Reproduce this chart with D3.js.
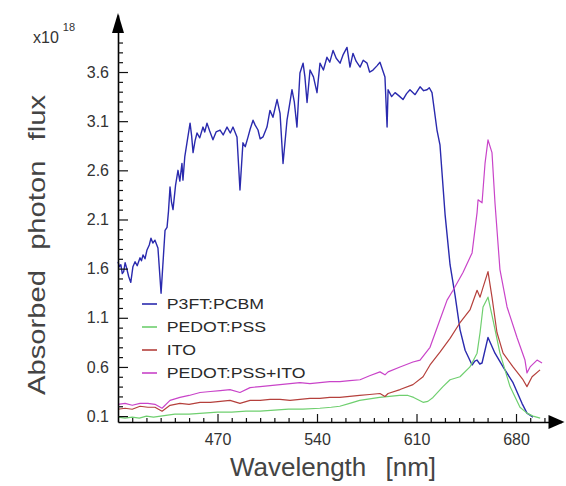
<!DOCTYPE html>
<html>
<head>
<meta charset="utf-8">
<script src="https://cdn.jsdelivr.net/npm/d3@7"></script>
<style>
  body { margin: 0; background: #fff; }
  svg { display: block; }
  text { font-family: "Liberation Sans", Arial, sans-serif; }
</style>
</head>
<body>
<svg id="chart" width="566" height="486"></svg>
<script>

// Wavelengths (nm) and absorbed photon flux (x10^18)
const p3ftWl = [400, 401, 402, 403, 404, 405, 406, 407.5, 409, 410.5, 412, 413.5, 415.5, 416.5, 417.6, 419,
    420.4, 422, 423.2, 424.5, 426, 428.1, 430.3, 433.1, 434.5, 435.5, 436.6, 437.6, 438.7, 440.5, 442.2,
    443.5, 445, 445.7, 447, 448.5, 450.7, 451.8, 452.8, 454.2, 455.6, 457.5, 459.8, 461, 462.6, 464.5,
    466.8, 469, 471.8, 474, 476.7, 479, 480.9, 483.7, 485.8, 487.9, 489.5, 491.5, 493, 495, 496.5, 498.5,
    500, 502, 504.8, 506.9, 509, 511.9, 514, 516.1, 518.9, 520.5, 522.4, 524, 525.9, 528, 530.2, 531.5, 533,
    535.1, 537.5, 540, 542.1, 544.5, 547, 549, 551.3, 553.5, 556.2, 558.5, 561.1, 563.2, 565.3, 567.5,
    570.3, 572.5, 575.2, 577, 579.4, 582, 584.3, 587.8, 589.3, 590, 592.5, 594.9, 597.5, 600.5, 603, 605.4,
    609, 612.5, 615, 617.4, 619, 620.9, 624.4, 626.5, 630.1, 633.6, 637.1, 640.6, 644.2, 649.1, 651, 652.6,
    654.5, 656.1, 660.3, 665.2, 670.9, 677.9, 684.2, 687.7, 692];
const p3ftVal = [1.67, 1.62, 1.64, 1.55, 1.57, 1.66, 1.61, 1.52, 1.46, 1.62, 1.67, 1.63, 1.71, 1.68, 1.74, 1.70,
    1.79, 1.84, 1.91, 1.86, 1.89, 1.81, 1.35, 1.99, 2.02, 2.18, 2.43, 2.28, 2.20, 2.45, 2.60,
    2.49, 2.67, 2.50, 2.74, 2.88, 3.08, 2.95, 2.78, 2.90, 2.98, 2.93, 3.04, 2.99, 3.08, 3.00,
    2.91, 2.99, 3.01, 2.96, 3.04, 2.98, 3.04, 2.94, 2.40, 2.88, 2.84, 2.94, 3.02, 3.11, 3.06, 3.01,
    2.92, 2.94, 3.04, 3.21, 3.14, 3.32, 3.18, 2.67, 3.11, 3.25, 3.42, 3.30, 3.04, 3.59, 3.69, 3.55, 3.29,
    3.62, 3.55, 3.39, 3.69, 3.62, 3.75, 3.70, 3.82, 3.74, 3.69, 3.78, 3.85, 3.65, 3.79, 3.71,
    3.65, 3.72, 3.69, 3.60, 3.62, 3.66, 3.70, 3.55, 3.04, 3.42, 3.35, 3.39, 3.36, 3.32, 3.38, 3.42,
    3.37, 3.45, 3.41, 3.42, 3.44, 3.39, 3.01, 2.86, 2.15, 1.64, 1.33, 0.98, 0.77, 0.62, 0.66, 0.67,
    0.63, 0.64, 0.90, 0.74, 0.60, 0.44, 0.23, 0.13, 0.09];

const pedotWl = [400, 405, 410, 415, 420, 425, 430, 435, 440, 450, 460, 470, 480, 490, 500, 510, 520, 530,
    542, 550, 556, 563, 570, 584, 598, 604, 608, 614.6, 618, 621.6, 628.6, 633.6, 640.6, 647.6, 652.6,
    654.7, 656.8, 660.3, 663.8, 668.7, 675.8, 682.8, 687.7, 692, 697];
const pedotVal = [0.09, 0.08, 0.09, 0.08, 0.10, 0.09, 0.10, 0.11, 0.12, 0.12, 0.13, 0.14, 0.14, 0.15, 0.15,
    0.16, 0.17, 0.17, 0.18, 0.19, 0.20, 0.23, 0.26, 0.29, 0.31, 0.31, 0.29, 0.24, 0.25, 0.29, 0.40, 0.47,
    0.50, 0.60, 0.74, 0.95, 1.21, 1.31, 1.08, 0.74, 0.40, 0.19, 0.13, 0.10, 0.08];

const itoWl = [400, 405, 410, 415.5, 421, 426, 431, 436.6, 443.6, 450, 457.7, 465, 472, 478.8, 485.8, 492.9,
    500, 507, 514, 521, 528, 535, 542, 549, 556, 563, 570, 577, 584.3, 587.8, 590, 598.4, 607.5, 614.6,
    619.5, 626.5, 633.6, 640.6, 647.6, 652.6, 654.7, 656.8, 660.3, 663.1, 666.6, 670.9, 677.9, 684.9,
    687.7, 691.3, 696.9];
const itoVal = [0.17, 0.18, 0.17, 0.20, 0.19, 0.19, 0.15, 0.21, 0.23, 0.22, 0.24, 0.24, 0.25, 0.26, 0.23, 0.26,
    0.26, 0.27, 0.27, 0.26, 0.27, 0.28, 0.28, 0.29, 0.29, 0.30, 0.31, 0.32, 0.33, 0.30, 0.33, 0.37, 0.42,
    0.50, 0.62, 0.75, 0.89, 1.05, 1.18, 1.38, 1.31, 1.41, 1.57, 1.31, 0.95, 0.74, 0.60, 0.47,
    0.40, 0.50, 0.57];

const bothWl = [400, 405, 410, 415.5, 421, 426, 431, 436.6, 443.6, 450, 457.7, 465, 472, 478.8, 485.8, 492.9,
    500, 507, 514, 521, 528, 535, 542, 549, 556, 563, 570.3, 577, 584.3, 587.8, 590, 598.4, 607.5, 612.5,
    619.5, 626.5, 631.5, 635.7, 642.7, 649.1, 652.6, 653.3, 656.1, 658.2, 660.3, 663.1, 665.2, 668.7,
    673.7, 680.7, 686.3, 687.7, 689.9, 694.8, 698.3];
const bothVal = [0.22, 0.23, 0.21, 0.23, 0.23, 0.22, 0.18, 0.26, 0.29, 0.31, 0.34, 0.35, 0.36, 0.37, 0.34, 0.39,
    0.40, 0.41, 0.42, 0.43, 0.44, 0.43, 0.44, 0.45, 0.45, 0.46, 0.47, 0.51, 0.55, 0.52, 0.55, 0.60, 0.65,
    0.67, 0.80, 1.08, 1.28, 1.38, 1.56, 1.76, 2.17, 2.30, 2.27, 2.67, 2.91, 2.78, 2.27, 1.59,
    1.21, 0.90, 0.67, 0.54, 0.60, 0.67, 0.64];

const seriesNames = ["P3FT:PCBM", "PEDOT:PSS", "ITO", "PEDOT:PSS+ITO"];
const seriesColors = ["#2a2aae", "#6fcf6f", "#b5403c", "#c944c9"];

const yMajor = [0.1, 0.6, 1.1, 1.6, 2.1, 2.6, 3.1, 3.6];
const xMajor = [470, 540, 610, 680];

const series = [
    d3.zip(p3ftWl, p3ftVal),
    d3.zip(pedotWl, pedotVal),
    d3.zip(itoWl, itoVal),
    d3.zip(bothWl, bothVal)
];

const svg = d3.select("#chart");

const x = d3.scaleLinear().domain([400, 712]).range([118, 561.5]);
const y = d3.scaleLinear().domain([0.04, 4.18]).range([422, 15]);

// minor ticks every 10 nm / 0.1
const xMinor = d3.range(410, 710, 10).filter(v => !xMajor.includes(v));
const yMinor = d3.range(2, 40).map(i => +(i / 10).toFixed(1))
    .filter(v => !yMajor.some(m => Math.abs(m - v) < 1e-6));

// Curves
const line = d3.line()
    .x(d => x(d[0]))
    .y(d => y(d[1]));

svg.append("g")
    .selectAll("path")
    .data(series)
    .enter()
    .append("path")
    .attr("d", line)
    .attr("fill", "none")
    .attr("stroke", (d, i) => seriesColors[i])
    .attr("stroke-width", (d, i) => i === 0 ? 1.4 : 1.2)
    .attr("stroke-linejoin", "round");

// Y axis: ticks point inward
const yAxis = svg.append("g").attr("transform", "translate(118,0)");
yAxis.call(d3.axisLeft(y).tickValues(yMajor).tickSize(-10).tickSizeOuter(0)
    .tickPadding(9).tickFormat(d3.format(".1f")));
yAxis.append("g").call(d3.axisLeft(y).tickValues(yMinor).tickSize(-5).tickFormat(""))
    .select(".domain").remove();

// X axis
const xAxis = svg.append("g").attr("transform", "translate(0,422)");
xAxis.call(d3.axisBottom(x).tickValues(xMajor).tickSize(-8).tickSizeOuter(0)
    .tickPadding(12).tickFormat(d3.format("d")));
xAxis.append("g").call(d3.axisBottom(x).tickValues(xMinor).tickSize(-4).tickFormat(""))
    .select(".domain").remove();

svg.selectAll(".domain").attr("stroke", "#000").attr("stroke-width", 1.6);
svg.selectAll(".tick line").attr("stroke", "#111").attr("stroke-width", 1.2);
svg.selectAll(".tick text")
    .attr("fill", "#333")
    .style("font-size", "16px")
    .style("font-family", "'Liberation Sans', Arial, sans-serif");

// Axis arrow heads
svg.append("path")
    .attr("d", `M${x(400)},${y(4.18) - 2} l-6,20 l12,0 Z`)
    .attr("fill", "#000");
svg.append("path")
    .attr("d", `M${x(712) + 3},${y(0.04)} l-16,-7 l0,14 Z`)
    .attr("fill", "#000");

// Exponent label
const expo = svg.append("text")
    .attr("x", 33)
    .attr("y", 43)
    .attr("fill", "#333")
    .style("font-size", "16px")
    .text("x10");
expo.append("tspan")
    .attr("dx", 4)
    .attr("dy", -12)
    .style("font-size", "11px")
    .text("18");

// Axis titles
svg.append("text")
    .attr("transform", "translate(45,245) rotate(-90)")
    .attr("text-anchor", "middle")
    .attr("fill", "#444")
    .style("font-size", "24px")
    .attr("textLength", 300)
    .attr("lengthAdjust", "spacingAndGlyphs")
    .style("word-spacing", "10px")
    .text("Absorbed photon flux");

svg.append("text")
    .attr("x", 333)
    .attr("y", 476)
    .attr("text-anchor", "middle")
    .attr("fill", "#444")
    .style("font-size", "26px")
    .style("word-spacing", "12px")
    .text("Wavelength [nm]");

// Legend
const legend = svg.append("g").attr("transform", "translate(142,304)");
const item = legend.selectAll("g")
    .data(seriesNames)
    .enter()
    .append("g")
    .attr("transform", (d, i) => `translate(0,${i * 23})`);

item.append("line")
    .attr("x1", 0)
    .attr("x2", 15)
    .attr("stroke", (d, i) => seriesColors[i])
    .attr("stroke-width", 1.6);

item.append("text")
    .attr("x", 21)
    .attr("dy", "0.36em")
    .attr("fill", "#2a2a2a")
    .style("font-size", "15px")
    .attr("transform", "scale(1.18,1)")
    .text(d => d);

</script>
</body>
</html>
